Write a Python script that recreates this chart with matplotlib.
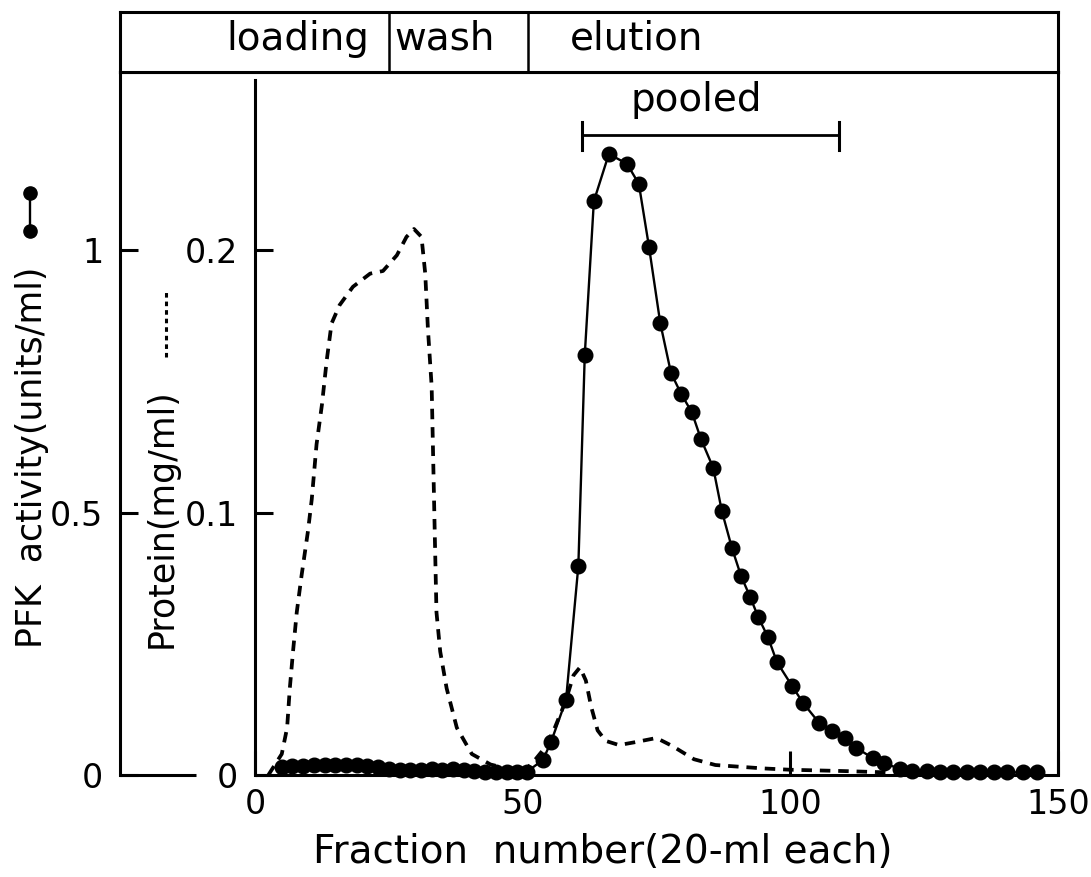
import matplotlib
matplotlib.use('Agg')
import matplotlib.pyplot as plt

# PFK activity (units/ml) per fraction -- filled dots on a solid line
pfk_frac = [5, 7, 9, 11, 13, 15, 17, 19, 21, 23, 25, 27, 29, 31, 33, 35, 37, 39,
            41, 43, 45, 47, 49, 50.8, 53.8, 55.3, 58.1, 60.4, 61.6, 63.3, 66.1,
            69.5, 71.7, 73.6, 75.7, 77.7, 79.6, 81.6, 83.3, 85.6, 87.2, 89.1,
            90.8, 92.5, 94.0, 95.8, 97.5, 100.3, 102.4, 105.4, 107.8, 110.2,
            112.3, 115.4, 117.5, 120.5, 122.8, 125.5, 128, 130.4, 133, 135.4,
            138, 140.5, 143.4, 146]
pfk_act = [0.015, 0.018, 0.018, 0.02, 0.02, 0.02, 0.02, 0.02, 0.018, 0.015,
           0.012, 0.01, 0.01, 0.01, 0.012, 0.01, 0.012, 0.01, 0.008, 0.006,
           0.006, 0.005, 0.006, 0.006, 0.029, 0.063, 0.143, 0.398, 0.80, 1.093,
           1.183, 1.164, 1.126, 1.006, 0.861, 0.766, 0.726, 0.691, 0.640, 0.585,
           0.503, 0.432, 0.379, 0.339, 0.301, 0.263, 0.215, 0.170, 0.137, 0.099,
           0.084, 0.070, 0.052, 0.032, 0.022, 0.012, 0.008, 0.007, 0.006, 0.006,
           0.005, 0.005, 0.005, 0.005, 0.005, 0.005]

# protein (mg/ml) -- dashed trace
prot_frac = [2.5, 5, 6, 6.5, 7.1, 7.8, 8.7, 9.9, 10.6, 11.5, 12.5, 13.4, 14.3,
             15.8, 18.3, 21.5, 23.9, 26.5, 28.3, 29.7, 31.1, 31.8, 32.3, 33.0,
             33.3, 33.6, 33.9, 34.6, 35.8, 37.7, 40.5, 44, 48, 50.5, 52, 54, 56,
             58, 59.5, 60.7, 61.8, 62.8, 64, 65.5, 68, 71, 75, 78, 82, 86, 95,
             100, 110, 118]
prot_mg = [0.0, 0.008, 0.018, 0.033, 0.047, 0.062, 0.076, 0.093, 0.105, 0.126,
           0.141, 0.158, 0.172, 0.179, 0.186, 0.191, 0.192, 0.198, 0.205, 0.208,
           0.205, 0.191, 0.170, 0.148, 0.119, 0.090, 0.062, 0.047, 0.033, 0.018,
           0.008, 0.004, 0.002, 0.002, 0.005, 0.010, 0.018, 0.028, 0.038, 0.041,
           0.036, 0.026, 0.017, 0.013, 0.0114, 0.0125, 0.0141, 0.011, 0.006,
           0.0038, 0.0025, 0.002, 0.0015, 0.001]

phase_names = ['loading', 'wash', 'elution']
phase_edges = [25, 51]
pooled = [61, 109]

x_ticks = [0, 50, 100, 150]
pfk_ticks = [0, 0.5, 1]
pfk_labels = ['0', '0.5', '1']
prot_ticks = [0, 0.1, 0.2]
prot_labels = ['0', '0.1', '0.2']

W, H = 1091, 877
FS = 28      # words
FT = 24      # tick numbers
FY = 25      # rotated axis titles
LW = 2.2
fig = plt.figure(figsize=(W / 100, H / 100), dpi=100)

# pixel geometry of the original figure
x0px, x150px = 255, 1058
leftpx, toppx, botpx = 120, 72, 775
pxu = (x150px - x0px) / 150.0
xmin = -(x0px - leftpx) / pxu
ymax = (botpx - toppx) / 525.0

ax = fig.add_axes([leftpx / W, 1 - botpx / H, (x150px - leftpx) / W, (botpx - toppx) / H])
ax.set_xlim(xmin, 150)
ax.set_ylim(0, ymax)
ax.spines['bottom'].set_visible(False)
for s in ['left', 'right', 'top']:
    ax.spines[s].set_linewidth(LW)

# bottom axis line and the stub under the PFK axis
ax.plot([0, 150], [0, 0], color='k', lw=LW, clip_on=False, solid_capstyle='butt')
ax.plot([xmin, -11], [0, 0], color='k', lw=LW, clip_on=False, solid_capstyle='butt')

ax.set_xticks(x_ticks)
ax.set_xticklabels([str(t) for t in x_ticks])
ax.set_yticks(pfk_ticks)
ax.set_yticklabels(pfk_labels)
ax.tick_params(axis='x', direction='in', length=17, width=LW, labelsize=FT, pad=9)
ax.tick_params(axis='y', direction='in', length=13, width=LW, labelsize=FT, pad=12,
               right=True)
# no visible tick mark at 50 in the original
ax.xaxis.get_major_ticks()[1].tick1line.set_visible(False)

# protein axis at fraction 0
ax2 = ax.twinx()
ax2.set_ylim(0, ymax / 5)
for s in ['right', 'top', 'bottom']:
    ax2.spines[s].set_visible(False)
ax2.spines['left'].set_visible(True)
ax2.spines['left'].set_position(('data', 0))
ax2.spines['left'].set_linewidth(LW)
ax2.spines['left'].set_bounds(0, (botpx - 80) / 525.0 / 5)
ax2.yaxis.set_ticks_position('left')
ax2.yaxis.set_label_position('left')
ax2.set_yticks(prot_ticks)
ax2.set_yticklabels(prot_labels)
ax2.tick_params(axis='y', direction='in', length=13, width=LW, labelsize=FT, pad=12)

ax2.plot(prot_frac, prot_mg, color='k', lw=2.7, ls=(0, (2.8, 2.1)), clip_on=False)
ax.plot(pfk_frac, pfk_act, color='k', lw=1.7, marker='o', ms=10.5, clip_on=False, zorder=5)

# pooled bar
yb = (botpx - 135) / 525.0
ax.plot(pooled, [yb, yb], color='k', lw=2)
for p in pooled:
    ax.plot([p, p], [yb - 0.028, yb + 0.024], color='k', lw=2.2)
ax.text(82.5, yb + 0.03, 'pooled', ha='center', va='bottom', fontsize=FS)

# phase banner
axb = fig.add_axes([leftpx / W, 1 - toppx / H, (x150px - leftpx) / W, (toppx - 12) / H])
axb.set_xlim(xmin, 150)
axb.set_ylim(0, 1)
axb.set_xticks([])
axb.set_yticks([])
for s in axb.spines.values():
    s.set_linewidth(LW)
for e in phase_edges:
    axb.axvline(e, color='k', lw=1.8)
for name, xc in zip(phase_names, [8.0, 35.5, 71.2]):
    axb.text(xc, 0.55, name, ha='center', va='center', fontsize=FS)

# axis titles
fig.text(313 / W, 1 - 852 / H, 'Fraction  number(20-ml each)', ha='left', va='center',
         fontsize=FS)
fig.text(32 / W, 1 - 648 / H, 'PFK  activity(units/ml)', rotation=90, ha='center',
         va='bottom', fontsize=FY)
fig.text(162 / W, 1 - 648 / H, 'Protein(mg/ml)', rotation=90, ha='center',
         va='bottom', fontsize=FY)

# legend glyphs next to the axis titles
fig.add_artist(plt.Line2D([30 / W, 30 / W], [1 - 231 / H, 1 - 193 / H], color='k',
                          lw=1.7, marker='o', ms=9.5))
fig.add_artist(plt.Line2D([166 / W, 166 / W], [1 - 357 / H, 1 - 292 / H], color='k',
                          lw=2.2, ls=(0, (1.5, 1.3))))

fig.savefig('out.png', dpi=100)
